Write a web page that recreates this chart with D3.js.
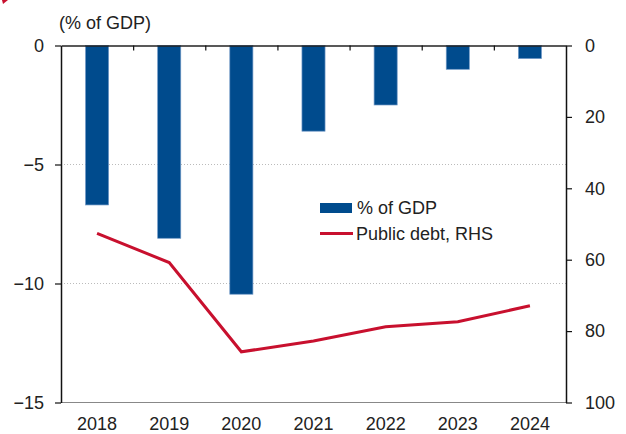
<!DOCTYPE html>
<html>
<head>
<meta charset="utf-8">
<script src="https://cdn.jsdelivr.net/npm/d3@7"></script>
<style>
  body { margin: 0; background: #fff; }
  svg text { font-family: "Liberation Sans", Arial, sans-serif; fill: #222; }
</style>
</head>
<body>
<svg id="graph" width="626" height="434"></svg>
<script>
// donnees
const years = ['2018', '2019', '2020', '2021', '2022', '2023', '2024'];
const deficit = [-6.7, -8.1, -10.45, -3.6, -2.5, -1.0, -0.55];   // % of GDP (gauche)
const debt = [52.6, 60.8, 85.8, 82.8, 78.8, 77.4, 72.9];       // public debt, RHS
const leftTicks = [0, -5, -10, -15];
const rightTicks = [0, 20, 40, 60, 80, 100];

const plotLeft = 61, plotRight = 566, plotTop = 45.5, plotBottom = 402.5;
const blue = '#004b8d';
const red = '#c8102e';

const svg = d3.select('#graph');

const x = d3.scaleBand()
    .domain(years)
    .range([plotLeft, plotRight])
    .paddingInner(0.68)
    .paddingOuter(0.34);

const y = d3.scaleLinear().domain([-15, 0]).range([plotBottom, plotTop]);
const y2 = d3.scaleLinear().domain([0, 100]).range([plotTop, plotBottom]);

// petit coin rouge en haut a gauche
svg.append('polygon')
    .attr('points', '2,0 8,0 3,4')
    .attr('fill', red);

// titre
svg.append('text')
    .attr('x', 59)
    .attr('y', 29)
    .style('font-size', '18px')
    .text('(% of GDP)');

// grille pointillee
svg.append('g')
    .selectAll('line')
    .data([-5, -10])
    .enter()
    .append('line')
    .attr('x1', plotLeft).attr('x2', plotRight)
    .attr('y1', d => y(d)).attr('y2', d => y(d))
    .attr('stroke', '#aaa')
    .attr('stroke-width', 0.8)
    .attr('stroke-dasharray', '1,2');

// ligne du bas (-15)
svg.append('line')
    .attr('x1', plotLeft).attr('x2', plotRight)
    .attr('y1', y(-15)).attr('y2', y(-15))
    .attr('stroke', '#888')
    .attr('stroke-width', 1.2);

// barres
svg.append('g')
    .selectAll('rect')
    .data(years)
    .enter()
    .append('rect')
    .attr('x', d => x(d))
    .attr('y', y(0))
    .attr('width', x.bandwidth())
    .attr('height', (d, i) => y(deficit[i]) - y(0))
    .attr('fill', blue)
    .attr('stroke', '#6f98c6')
    .attr('stroke-width', 0.7);

// ligne de la dette
const line = d3.line()
    .x((d, i) => x(years[i]) + x.bandwidth() / 2)
    .y(d => y2(d));

svg.append('path')
    .datum(debt)
    .attr('d', line)
    .attr('fill', 'none')
    .attr('stroke', red)
    .attr('stroke-width', 3);

// axe gauche
const axL = svg.append('g')
    .attr('transform', `translate(${plotLeft},0)`)
    .call(d3.axisLeft(y).tickValues(leftTicks).tickSize(6).tickSizeOuter(0).tickPadding(11));

// axe droit
const axR = svg.append('g')
    .attr('transform', `translate(${plotRight},0)`)
    .call(d3.axisRight(y2).tickValues(rightTicks).tickSize(6).tickSizeOuter(0).tickPadding(13));

[axL, axR].forEach(ax => {
  ax.select('.domain').attr('stroke', '#111').attr('stroke-width', 1.5);
  ax.selectAll('.tick line').attr('stroke', '#111').attr('stroke-width', 1.2);
  ax.selectAll('text').style('font-size', '18px').attr('fill', '#222');
});

// ligne zero avec les separations
const idx = d3.scaleLinear().domain([0, years.length]).range([plotLeft, plotRight]);
const axZ = svg.append('g')
    .attr('transform', `translate(0,${y(0)})`)
    .call(d3.axisBottom(idx).tickValues(d3.range(1, years.length)).tickSize(5).tickSizeOuter(0).tickFormat(''));
axZ.select('.domain').attr('stroke', '#222').attr('stroke-width', 1.5);
axZ.selectAll('.tick line').attr('stroke', '#111').attr('stroke-width', 1.2);

// annees
const axX = svg.append('g')
    .attr('transform', `translate(0,${plotBottom})`)
    .call(d3.axisBottom(x).tickSize(0).tickPadding(15));
axX.select('.domain').remove();
axX.selectAll('text').style('font-size', '18px').attr('fill', '#222');

// legende
const leg = svg.append('g');
leg.append('rect')
    .attr('x', 320).attr('y', 203)
    .attr('width', 32).attr('height', 10)
    .attr('fill', blue);
leg.append('text')
    .attr('x', 357).attr('y', 214)
    .style('font-size', '18px')
    .text('% of GDP');
leg.append('line')
    .attr('x1', 320).attr('x2', 353)
    .attr('y1', 233.5).attr('y2', 233.5)
    .attr('stroke', red)
    .attr('stroke-width', 3);
leg.append('text')
    .attr('x', 356).attr('y', 240)
    .style('font-size', '18px')
    .text('Public debt, RHS');
</script>
</body>
</html>
